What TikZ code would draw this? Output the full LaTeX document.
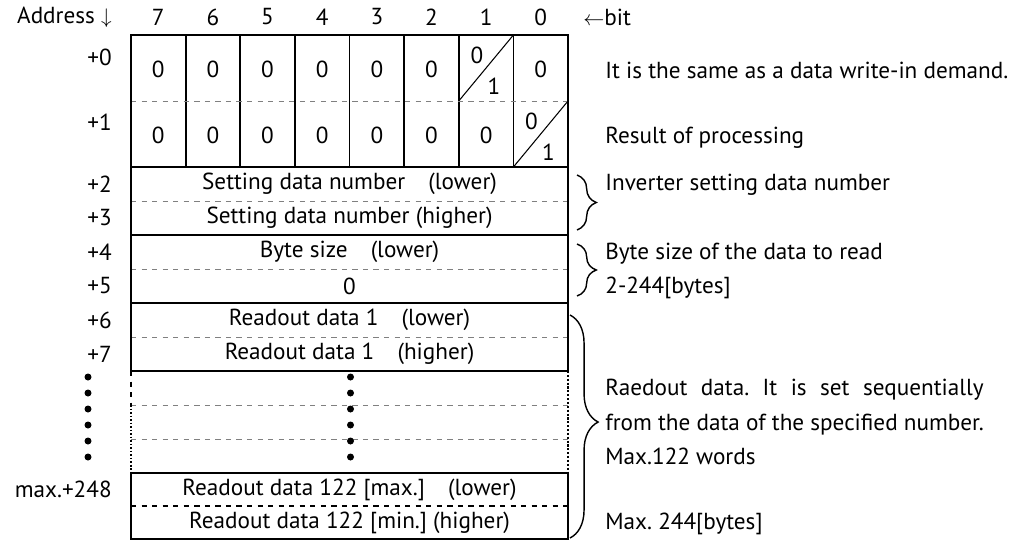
\documentclass[tikz,border=0pt]{standalone}
\usepackage{fontspec}
\setmainfont{PT Sans}
\usetikzlibrary{calc, decorations.pathreplacing}
\newcommand\tabfont{\fontsize{13.2}{19.4}\selectfont}
\newlength\notewd
\frenchspacing

\begin{document}
\settowidth\notewd{\tabfont from the data of the specified number.}
\begin{tikzpicture}[x=0.02cm, y=-0.02cm,
        every node/.style={inner sep=0pt, font=\tabfont},
        frame/.style={line width=1.6pt},
        grid/.style={line width=1pt},
        split/.style={gray, dashed, line width=0.5pt},
        note/.style={anchor=west, align=left},
        curly/.style={decorate, decoration={brace, amplitude=#1}, line width=0.8pt}]
    \useasboundingbox (0,0) rectangle (1016,541);
    % header line
    \node[anchor=east] (addr) at (112,17) {Address $\downarrow$};
    \foreach \b [count=\c] in {7,6,...,0}{
        \node (bit\b) at ({131+(\c-0.5)*54.625},17) {\b};
    }
    \node[anchor=west] (bitword) at (583,17) {$\leftarrow$bit};
    % addresses
    \foreach \a/\y [count=\n] in {+0/57,+1/122,+2/184,+3/218,+4/252,+5/286,+6/320,+7/354,max.+248/489}{
        \node[anchor=east] (adr\n) at (112,\y) {\a};
    }
    % bit cells of +0 and +1
    \foreach \b [count=\c] in {7,6,...,2}{
        \node (wr\b) at ({131+(\c-0.5)*54.625},69) {0};
        \node (rs\b) at ({131+(\c-0.5)*54.625},135) {0};
    }
    \node (wr0) at (540.7,69) {0};
    \node (rs1) at (486.1,135) {0};
    \foreach \c in {1,...,7}{
        \draw[grid] ({131+\c*54.625},35) -- ({131+\c*54.625},167);
    }
    \draw[line width=0.6pt] (458.75,101) -- (513.4,35);
    \node (wrlow) at (477,55) {0};
    \node (wrhigh) at (494,86) {1};
    \draw[line width=0.6pt] (513.4,167) -- (568,101);
    \node (rslow) at (531.5,121) {0};
    \node (rshigh) at (548.5,152) {1};
    % word rows
    \foreach \t/\y [count=\n] in {Setting data number\quad(lower)/184,Setting data number (higher)/218,
            Byte size\quad(lower)/252,0/286,Readout data 1\quad(lower)/320,Readout data 1\quad(higher)/354,
            Readout data 122 [max.]\quad(lower)/489.5,Readout data 122 [min.] (higher)/522.5}{
        \node (row\n) at (349.5,\y) {\t};
    }
    % row separators and frames
    \foreach \y in {101,201,269,337,405,439}{
        \draw[split] (131,\y) -- (568,\y);
    }
    \draw[dashed, line width=0.9pt] (131,506) -- (568,506);
    \foreach \t/\u in {35/167,167/235,235/303,303/371,473/539}{
        \draw[frame] (131,\t) rectangle (568,\u);
    }
    \draw[dashed, line width=1pt] (131,371) -- (131,405);
    \draw[densely dotted, line width=1pt] (131,405) -- (131,473);
    \draw[densely dotted, line width=1.2pt] (568,371) -- (568,473);
    \foreach \k in {0,...,5}{
        \fill (88,{377+16*\k}) circle (3.5);
        \fill (350.5,{377+16*\k}) circle (3.5);
    }
    % notes on the right
    \node[note] (demand) at (605,70) {It is the same as a data write-in demand.};
    \node[note] (result) at (605,138) {Result of processing};
    \draw[curly=11pt] (577,175) -- (577,230);
    \node[note] (invno) at (605,185) {Inverter setting data number};
    \draw[curly=11pt] (577,244) -- (577,296);
    \node[note] (bytes) at (605,270.5) {Byte size of the data to read\\2-244[bytes]};
    \draw[decorate, decoration={brace, amplitude=16pt, aspect=0.48}, line width=0.8pt] (570,315) -- (570,538);
    \node[anchor=west, text width=\notewd, align=justify] (readout) at (605,422)
        {Raedout data. It is set sequentially\linebreak from the data of the specified number.\\Max.122 words};
    \node[note] (maxbytes) at (605,524) {Max. 244[bytes]};
\end{tikzpicture}
\end{document}
